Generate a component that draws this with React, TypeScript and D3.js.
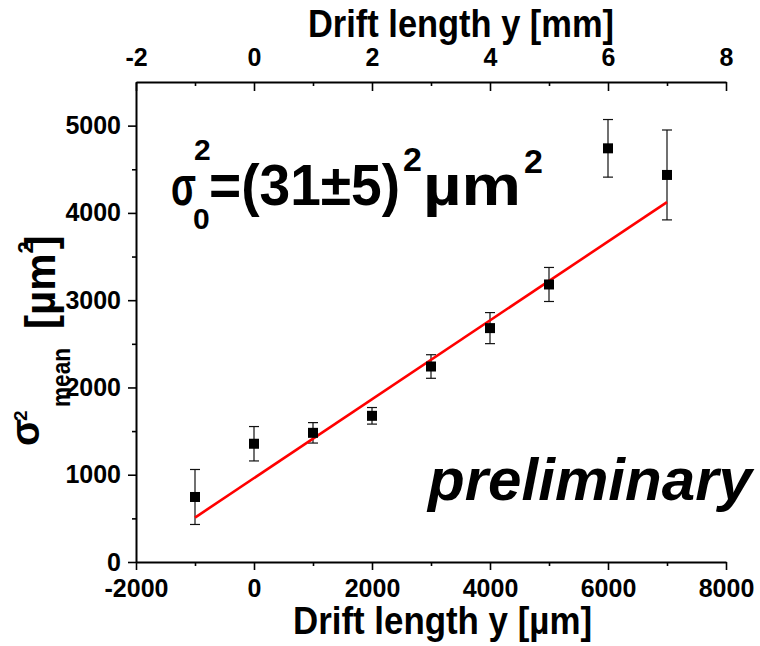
import React, { useEffect, useRef } from "react";
import * as d3 from "d3";

const W = 760;
const H = 646;

// drift length in µm, sigma_mean^2 in µm^2
const driftLength = [-1000, 0, 1000, 2000, 3000, 4000, 5000, 6000, 7000];
const sigmaMean2 = [745, 1355, 1480, 1675, 2240, 2680, 3180, 4740, 4435];
const sigmaErr = [315, 197, 117, 95, 135, 178, 195, 330, 515];

// linear fit sigma^2 = a + b*y
const fitIntercept = 961;
const fitSlope = 0.4518;
const fitRange = [-1000, 7000];

const xMajor = [-2000, 0, 2000, 4000, 6000, 8000];
const xMinor = [-1000, 1000, 3000, 5000, 7000];
const mmMajor = [-2, 0, 2, 4, 6, 8];
const mmMinor = [-1, 1, 3, 5, 7];
const yMajor = [0, 1000, 2000, 3000, 4000, 5000];
const yMinor = [500, 1500, 2500, 3500, 4500];

const margin = { top: 82, right: 34, bottom: 84, left: 136 };
const FONT = "'Liberation Sans', Arial, sans-serif";

export default function App() {
  const svgRef = useRef<SVGSVGElement>(null);

  useEffect(() => {
    const svg = d3.select(svgRef.current);
    svg.selectAll("g.plot").remove();

    const plotW = W - margin.left - margin.right;
    const plotH = H - margin.top - margin.bottom;

    const x = d3.scaleLinear().domain([-2000, 8000]).range([0, plotW]);
    const xmm = d3.scaleLinear().domain([-2, 8]).range([0, plotW]);
    const y = d3.scaleLinear().domain([0, 5500]).range([plotH, 0]);

    const g = svg
      .insert("g", ":first-child")
      .attr("class", "plot")
      .attr("transform", `translate(${margin.left},${margin.top})`);

    const fmt = (d) => String(d);

    const styleAxis = (sel, major) => {
      sel.select(".domain").attr("stroke-width", major ? 2 : 0);
      sel.selectAll(".tick line").attr("stroke-width", 1.6);
      sel
        .selectAll("text")
        .attr("font-family", FONT)
        .attr("font-weight", "bold")
        .attr("font-size", 25)
        .attr("fill", "#000");
    };

    // bottom axis
    g.append("g")
      .attr("transform", `translate(0,${plotH})`)
      .call(d3.axisBottom(x).tickValues(xMinor).tickFormat(() => "").tickSizeInner(4).tickSizeOuter(0))
      .call((s) => styleAxis(s, false));
    g.append("g")
      .attr("transform", `translate(0,${plotH})`)
      .call(d3.axisBottom(x).tickValues(xMajor).tickFormat(fmt).tickSizeInner(8).tickSizeOuter(0).tickPadding(9))
      .call((s) => styleAxis(s, true));

    // top axis (mm), ticks inward
    g.append("g")
      .call(d3.axisTop(xmm).tickValues(mmMinor).tickFormat(() => "").tickSizeInner(-4).tickSizeOuter(0))
      .call((s) => styleAxis(s, false));
    g.append("g")
      .call(d3.axisTop(xmm).tickValues(mmMajor).tickFormat(fmt).tickSizeInner(-9).tickSizeOuter(0).tickPadding(16))
      .call((s) => styleAxis(s, true));

    // left axis
    g.append("g")
      .call(d3.axisLeft(y).tickValues(yMinor).tickFormat(() => "").tickSizeInner(4).tickSizeOuter(0))
      .call((s) => styleAxis(s, false));
    g.append("g")
      .call(d3.axisLeft(y).tickValues(yMajor).tickFormat(fmt).tickSizeInner(8).tickSizeOuter(0).tickPadding(7))
      .call((s) => styleAxis(s, true));

    const pts = driftLength.map((d, i) => ({ x: d, y: sigmaMean2[i], e: sigmaErr[i] }));

    // error bars
    const eb = g.append("g").attr("stroke", "#111").attr("stroke-width", 1.2);
    pts.forEach((p) => {
      const cx = x(p.x);
      eb.append("line").attr("x1", cx).attr("x2", cx).attr("y1", y(p.y - p.e)).attr("y2", y(p.y + p.e));
      eb.append("line").attr("x1", cx - 5).attr("x2", cx + 5).attr("y1", y(p.y - p.e)).attr("y2", y(p.y - p.e));
      eb.append("line").attr("x1", cx - 5).attr("x2", cx + 5).attr("y1", y(p.y + p.e)).attr("y2", y(p.y + p.e));
    });

    // fit line
    const line = d3
      .line<number>()
      .x((d) => x(d))
      .y((d) => y(fitIntercept + fitSlope * d));
    g.append("path")
      .attr("d", line(fitRange))
      .attr("fill", "none")
      .attr("stroke", "#ff0000")
      .attr("stroke-width", 2.6);

    // squares
    g.selectAll("rect.pt")
      .data(pts)
      .join("rect")
      .attr("class", "pt")
      .attr("x", (d) => x(d.x) - 5)
      .attr("y", (d) => y(d.y) - 5)
      .attr("width", 10)
      .attr("height", 10)
      .attr("fill", "#000");
  }, []);

  const txt = { fontFamily: FONT, fontWeight: "bold", fill: "#000" } as const;

  return (
    <svg
      ref={svgRef}
      width={W}
      height={H}
      style={{ position: "absolute", left: 0, top: 0, background: "#fff" }}
    >
      {/* axis titles */}
      <text x={308} y={37} fontSize={38} textLength={306} lengthAdjust="spacingAndGlyphs" style={txt}>
        Drift length y [mm]
      </text>
      <text x={293} y={634} fontSize={38} textLength={299} lengthAdjust="spacingAndGlyphs" style={txt}>
        Drift length y [µm]
      </text>

      {/* y title, rotated */}
      <text transform="rotate(-90)" style={txt}>
        <tspan x={-446} y={39} fontSize={40}>σ</tspan>
        <tspan x={-421} y={27} fontSize={19}>2</tspan>
        <tspan x={-407} y={70} fontSize={26} textLength={59} lengthAdjust="spacingAndGlyphs">mean</tspan>
        <tspan x={-329} y={55} fontSize={42}>[µm</tspan>
        <tspan fontSize={22} dy={-22}>2</tspan>
        <tspan fontSize={42} dy={22} dx={-8}>]</tspan>
      </text>

      {/* fit result */}
      <text style={txt}>
        <tspan x={171} y={205} fontSize={56} textLength={25} lengthAdjust="spacingAndGlyphs">σ</tspan>
        <tspan x={194} y={160} fontSize={30}>2</tspan>
        <tspan x={193} y={229} fontSize={30}>0</tspan>
        <tspan x={209} y={205} fontSize={58} textLength={191} lengthAdjust="spacingAndGlyphs">=(31±5)</tspan>
        <tspan x={403} y={171} fontSize={34}>2</tspan>
        <tspan x={423} y={205} fontSize={58} textLength={98} lengthAdjust="spacingAndGlyphs">µm</tspan>
        <tspan x={524} y={173} fontSize={34}>2</tspan>
      </text>

      <text x={428} y={500} fontSize={59} fontStyle="italic" textLength={324} lengthAdjust="spacingAndGlyphs" style={txt}>
        preliminary
      </text>
    </svg>
  );
}
